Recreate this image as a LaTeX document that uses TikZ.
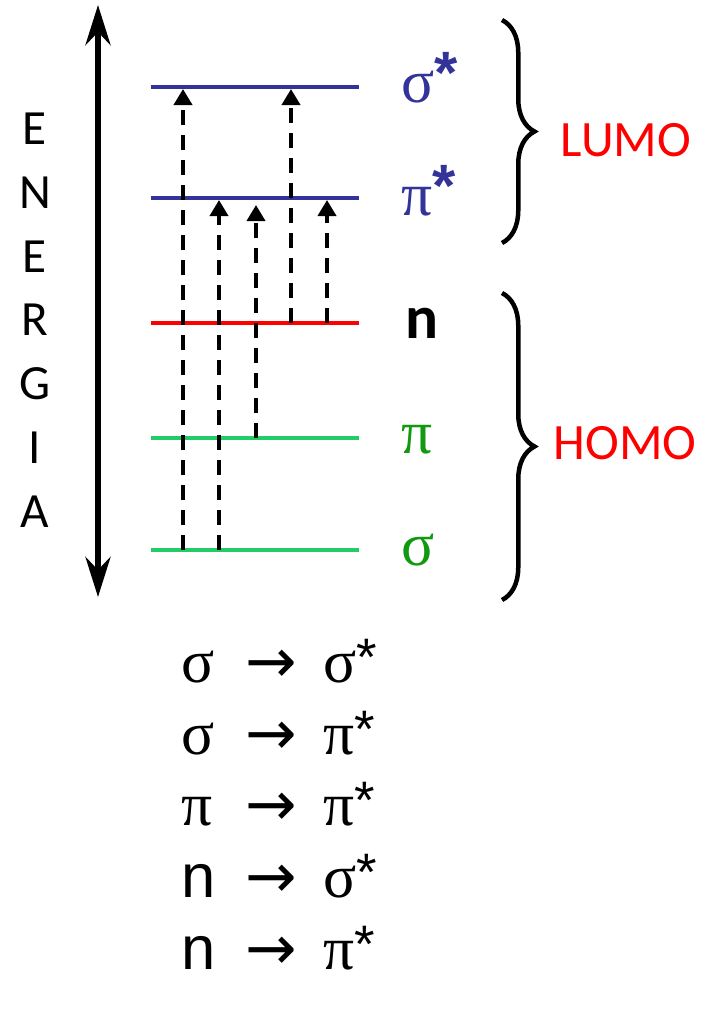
\documentclass[tikz,border=0pt]{standalone}
\usepackage{fontspec}
\setmainfont{Carlito}
\newfontfamily\greekfont{Liberation Serif}
\newfontfamily\arialfont{Liberation Sans}
\newfontfamily\arrowfont{DejaVu Sans}
\usetikzlibrary{arrows.meta,decorations.pathreplacing}
\definecolor{lumoblue}{RGB}{51,51,153}
\definecolor{homogreen}{RGB}{34,204,102}
\definecolor{labelgreen}{RGB}{17,153,17}
\newcommand{\stg}{{\greekfont σ}}
\newcommand{\pig}{{\greekfont π}}
\newcommand{\levelstar}{\raisebox{5pt}{\fontsize{34}{34}\selectfont\bfseries\arialfont *}}
\newcommand{\liststar}{\raisebox{3.5pt}{\fontsize{30}{30}\selectfont\arialfont *}}
\begin{document}
\begin{tikzpicture}[x=0.2mm, y=-0.2mm,
    level/.style={line width=0.7mm},
    jump/.style={line width=0.75mm, dash pattern=on 3mm off 2mm,
      -{Triangle[length=3.2mm, width=3.6mm]}},
    energy/.style={line width=1.2mm,
      {Stealth[length=8mm, width=5mm]}-{Stealth[length=8mm, width=5mm]}},
    orbital/.style={anchor=base west, inner sep=0pt, font=\fontsize{35}{40}\selectfont},
    group/.style={line width=0.9mm, decorate, decoration={brace, amplitude=6.5mm}},
    grouplabel/.style={text=red, font=\fontsize{29}{32}\selectfont},
    transition/.style={anchor=base west, inner sep=0pt, font=\fontsize{35}{38}\selectfont}]
  \useasboundingbox (0,0) rectangle (712,1010);

  % energy axis
  \coordinate (etop) at (98,5);
  \coordinate (ebot) at (98,597);
  \draw[energy] (etop) -- (ebot);
  \node[align=center, font=\fontsize{28}{36.3}\selectfont] (energia) at (35,320)
    {E\\N\\E\\R\\G\\I\\A};

  % levels
  \foreach \y/\col/\name in {87/lumoblue/sgs, 198/lumoblue/pis, 323/red/nb,
                             438/homogreen/pib, 550/homogreen/sgb} {
    \coordinate (\name L) at (151,\y);
    \coordinate (\name) at (359,\y);
    \draw[level, \col] (\name L) -- (\name);
  }
  \node[orbital, text=lumoblue] (lsgs) at (401,102) {\stg\levelstar};
  \node[orbital, text=lumoblue] (lpis) at (401,215) {\pig\levelstar};
  \node[orbital] (lnb) at (405,338) {\bfseries n};
  \node[orbital, text=labelgreen] (lpib) at (401,453) {\pig};
  \node[orbital, text=labelgreen] (lsgb) at (401,565) {\stg};

  % transitions
  \foreach \x/\from/\to/\gap in {183/sgb/sgs/0.4, 219/sgb/pis/0.4, 256/pib/pis/1.4,
                                 291/nb/sgs/0.4, 327/nb/pis/0.4} {
    \coordinate (x\x) at (\x,0);
    \draw[jump, shorten >=\gap mm] (x\x |- \from) -- (x\x |- \to);
  }

  % braces
  \coordinate (lumotop) at (502,20);
  \coordinate (lumobot) at (502,243);
  \coordinate (homotop) at (502,293);
  \coordinate (homobot) at (502,600);
  \draw[group] (lumotop) -- (lumobot);
  \draw[group] (homotop) -- (homobot);
  \node[grouplabel] (lumo) at (626,140) {LUMO};
  \node[grouplabel] (homo) at (625,443) {HOMO};

  % list of transitions
  \foreach \y/\a/\b [count=\i] in {682/\stg/\stg, 754/\stg/\pig, 825/\pig/\pig,
                                   897/\arialfont n/\stg, 969/\arialfont n/\pig} {
    \node[transition] (from\i) at (181,\y) {\a};
    \node[transition] (arr\i) at (245,\y) {\arrowfont →};
    \node[transition] (to\i) at (323,\y) {\b\liststar};
  }
\end{tikzpicture}
\end{document}
